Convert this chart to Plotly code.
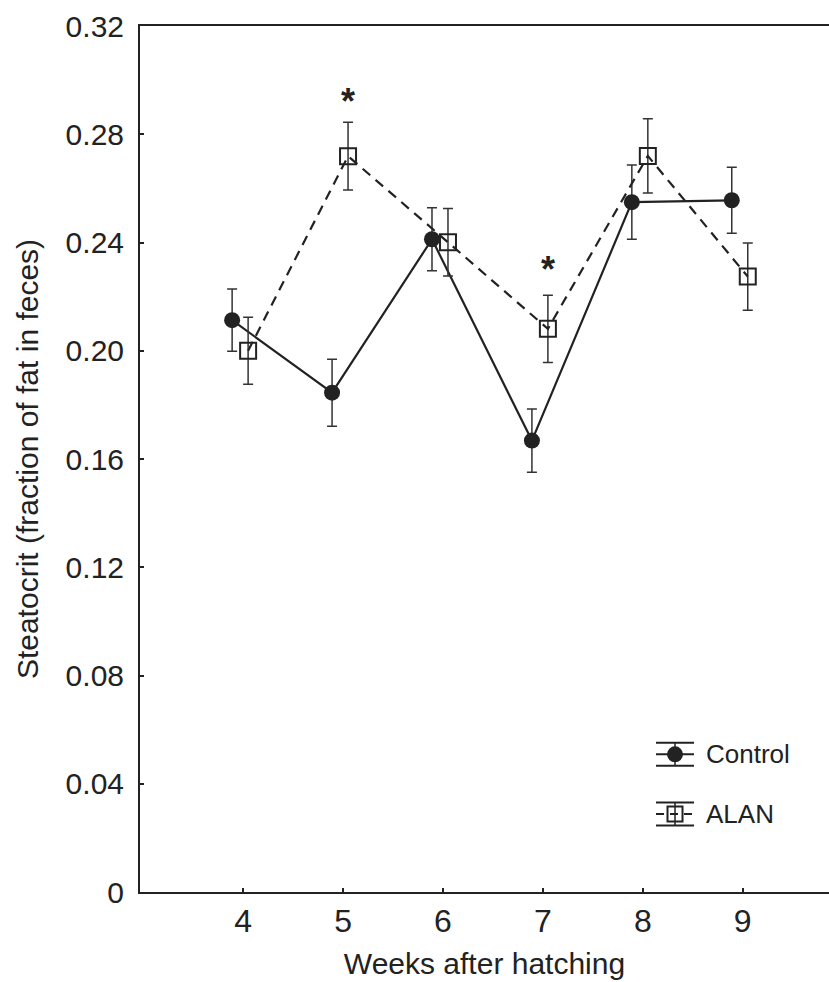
import plotly.graph_objects as go

# ---- data ----
weeks = [4, 5, 6, 7, 8, 9]
control_mean = [0.2113, 0.1845, 0.2412, 0.1668, 0.2549, 0.2556]
control_se = [0.0115, 0.0124, 0.0116, 0.0117, 0.0137, 0.0122]
alan_mean = [0.2000, 0.2719, 0.2401, 0.2081, 0.2720, 0.2274]
alan_se = [0.0124, 0.0125, 0.0125, 0.0124, 0.0137, 0.0124]
sig_weeks = [5, 7]
sig_y = [0.294, 0.232]
y_tick_vals = [0, 0.04, 0.08, 0.12, 0.16, 0.20, 0.24, 0.28, 0.32]
y_tick_labels = ["0", "0.04", "0.08", "0.12", "0.16", "0.20", "0.24", "0.28", "0.32"]
x_tick_vals = [4, 5, 6, 7, 8, 9]
x_tick_labels = ["4", "5", "6", "7", "8", "9"]

CONTROL_OFFSET = -0.11
ALAN_OFFSET = 0.05
INK = "#222222"
FONT = "Liberation Sans, Arial, sans-serif"

fig = go.Figure()

fig.add_trace(go.Scatter(
    x=[w + CONTROL_OFFSET for w in weeks], y=control_mean,
    mode="lines+markers", name="Control", showlegend=False,
    line=dict(color=INK, width=2.2),
    marker=dict(symbol="circle", size=16, color=INK, line=dict(width=0)),
    error_y=dict(type="data", array=control_se, visible=True,
                 color="#333333", thickness=1.5, width=5),
))
fig.add_trace(go.Scatter(
    x=[w + ALAN_OFFSET for w in weeks], y=alan_mean,
    mode="lines+markers", name="ALAN", showlegend=False,
    line=dict(color=INK, width=2.2, dash="10px,7px"),
    marker=dict(symbol="square-open", size=16, color=INK, line=dict(width=2, color=INK)),
    error_y=dict(type="data", array=alan_se, visible=True,
                 color="#333333", thickness=1.5, width=5),
))

# significance asterisks
for w, yv in zip(sig_weeks, sig_y):
    fig.add_annotation(x=w + ALAN_OFFSET, y=yv, text="<b>*</b>", showarrow=False,
                       xanchor="center", yanchor="middle", yshift=-5,
                       font=dict(family=FONT, size=36, color=INK))

# ---- custom legend (error-bar style keys) ----
legend_items = [
    ("Control", 0.159, "solid", "circle"),
    ("ALAN", 0.0901, "dash", "square"),
]
LEG_X = 0.7765
TEXT_X = 0.819
for label, py, dash, sym in legend_items:
    common = dict(xref="paper", yref="paper", xsizemode="pixel", ysizemode="pixel",
                  xanchor=LEG_X, yanchor=py, layer="above")
    for dy in (-11.5, 11.5):
        fig.add_shape(type="line", x0=-19, x1=19, y0=dy, y1=dy,
                      line=dict(color=INK, width=2), **common)
    fig.add_shape(type="line", x0=0, x1=0, y0=-11.5, y1=11.5,
                  line=dict(color=INK, width=1.5), **common)
    fig.add_shape(type="line", x0=-19, x1=19, y0=0, y1=0,
                  line=dict(color=INK, width=2, dash="8px,6px" if dash == "dash" else "solid"),
                  **common)
    if sym == "circle":
        fig.add_shape(type="circle", x0=-8, x1=8, y0=-8, y1=8,
                      fillcolor=INK, line=dict(color=INK, width=0), **common)
    else:
        fig.add_shape(type="rect", x0=-7.5, x1=7.5, y0=-7.5, y1=7.5,
                      fillcolor="rgba(0,0,0,0)", line=dict(color=INK, width=2), **common)
    fig.add_annotation(x=TEXT_X, y=py, xref="paper", yref="paper", text=label,
                       showarrow=False, xanchor="left", yanchor="middle",
                       font=dict(family=FONT, size=26, color=INK))

fig.update_layout(
    width=829, height=982,
    margin=dict(l=140, r=0, t=26, b=90, autoexpand=False),
    paper_bgcolor="white", plot_bgcolor="white",
    font=dict(family=FONT, color=INK),
    showlegend=False,
)
fig.update_xaxes(
    range=[2.968, 9.863], tickvals=x_tick_vals, ticktext=x_tick_labels,
    showline=True, linecolor=INK, linewidth=2, mirror=True,
    ticks="inside", ticklen=4, tickwidth=1.5, tickcolor=INK,
    tickfont=dict(size=32, family=FONT, color=INK), ticklabelstandoff=0,
    showgrid=False, zeroline=False,
    title=dict(text="Weeks after hatching", font=dict(size=30, family=FONT, color=INK), standoff=15),
)
fig.update_yaxes(
    range=[0, 0.32], tickvals=y_tick_vals, ticktext=y_tick_labels,
    showline=True, linecolor=INK, linewidth=2, mirror=False,
    ticks="inside", ticklen=4, tickwidth=1.5, tickcolor=INK,
    tickfont=dict(size=30, family=FONT, color=INK), ticklabelstandoff=8,
    showgrid=False, zeroline=False,
    title=dict(text="Steatocrit (fraction of fat in feces)", font=dict(size=30, family=FONT, color=INK), standoff=18),
)

fig.write_html("out.html")
